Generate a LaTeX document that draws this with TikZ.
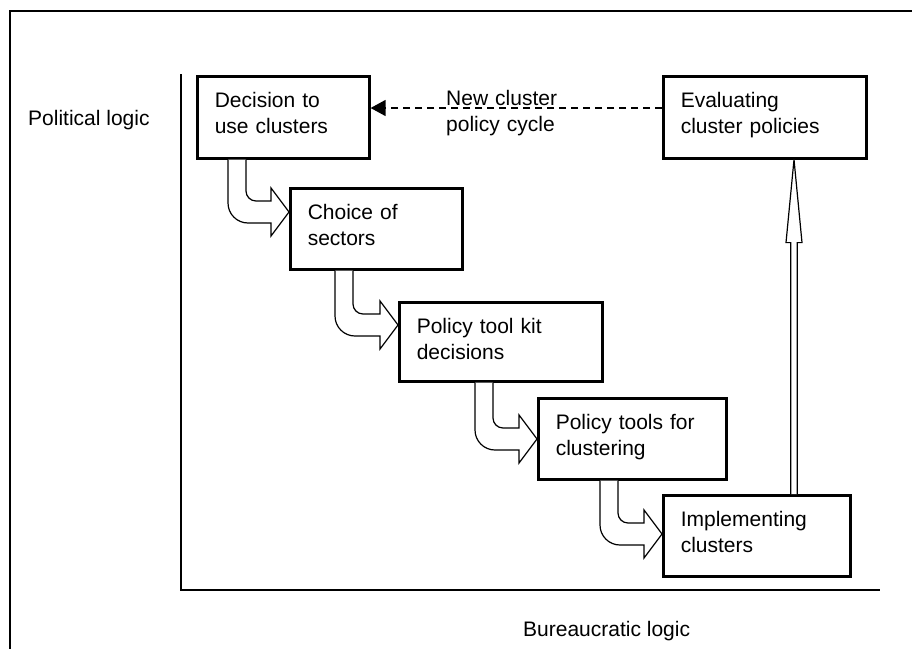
\documentclass[tikz,border=0pt]{standalone}
\usepackage{fontspec}
\setmainfont{Liberation Sans}
\usetikzlibrary{arrows.meta,calc}

\newcommand\stagefont{\fontsize{21}{26.6}\selectfont}

\tikzset{
  stage/.style={draw=black, line width=2.6pt, fill=white, anchor=north west,
    inner xsep=17.5pt, inner ysep=0pt, text height=31pt, align=left, font=\stagefont},
  lbl/.style={inner sep=0pt, font=\stagefont},
  flow/.style={draw=black, line width=1.2pt, fill=white, line join=miter},
  axisline/.style={draw=black, line width=2.6pt},
  frameline/.style={draw=black, line width=1.8pt},
  cycleline/.style={draw=black, line width=1.3pt, dash pattern=on 7pt off 5pt,
    -{Triangle[length=15pt,width=16pt]}},
}

% curved block arrow: from the bottom of #1 into the left side of #2
% #3 = offset of the outer edge from the left of #1, #4 = offset of the upper edge below the top of #2
\newcommand\bendflow[4]{%
  \path[flow] let \p1=($(#1.south west)+(#3,0)$), \p2=($(#2.north west)+(0,#4)$) in
    (\x1,\y1) -- (\x1,\y2-2pt)
    arc[start angle=180, end angle=270, radius=20pt]
    -- (\x2-18pt,\y2-22pt) -- (\x2-18pt,\y2-35pt) -- (\x2,\y2-11pt)
    -- (\x2-18pt,\y2+13pt) -- (\x2-18pt,\y2) -- (\x1+28pt,\y2)
    arc[start angle=270, end angle=180, radius=10pt]
    -- (\x1+18pt,\y1);}

\begin{document}
\begin{tikzpicture}[x=1pt,y=-1pt]
\useasboundingbox (0,0) rectangle (912,648);

% frame and axes
\draw[frameline] (10,650) -- (10,11) -- (914,11);
\draw[axisline] (181,74) -- (181,590) -- (880,590);

% axis labels
\node[lbl, anchor=base west] (pol) at (28,125) {Political logic};
\node[lbl, anchor=base west] (bur) at (523,636) {Bureaucratic logic};

% stages of the policy cycle
\node[stage, text width=137pt, text depth=51pt] (dec) at (196,75) {Decision to\\use clusters};
\node[stage, text width=137pt, text depth=50pt] (cho) at (289,187) {Choice of\\sectors};
\node[stage, text width=168pt, text depth=48pt] (kit) at (398,301) {Policy tool kit\\decisions};
\node[stage, text width=153pt, text depth=50pt] (too) at (537,397) {Policy tools for\\clustering};
\node[stage, text width=152pt, text depth=50pt] (imp) at (662,494) {Implementing\\clusters};
\node[stage, text width=168pt, text depth=51pt] (eva) at (662,75) {Evaluating\\cluster policies};

% stepwise flow down the staircase
\bendflow{dec}{cho}{32}{14}
\bendflow{cho}{kit}{46}{13}
\bendflow{kit}{too}{77}{31}
\bendflow{too}{imp}{63}{29}

% hollow arrow up to the evaluation
\path[flow] let \p1=($(imp.north west)+(132,0)$), \p2=(eva.south) in
  (\x1-3.3pt,\y1) -- (\x1-3.3pt,\y2-83pt) -- (\x1-8pt,\y2-83pt) -- (\x1,\y2)
  -- (\x1+8pt,\y2-83pt) -- (\x1+3.3pt,\y2-83pt) -- (\x1+3.3pt,\y1);

% new cycle back to the start
\coordinate (cycstart) at ($(eva.north west)+(0,33)$);
\draw[cycleline] (cycstart) -- (cycstart -| dec.east);
\node[lbl, anchor=base west, text width=140pt, align=left] (cyc) at (446,105) {New cluster\\policy cycle};
\end{tikzpicture}
\end{document}
